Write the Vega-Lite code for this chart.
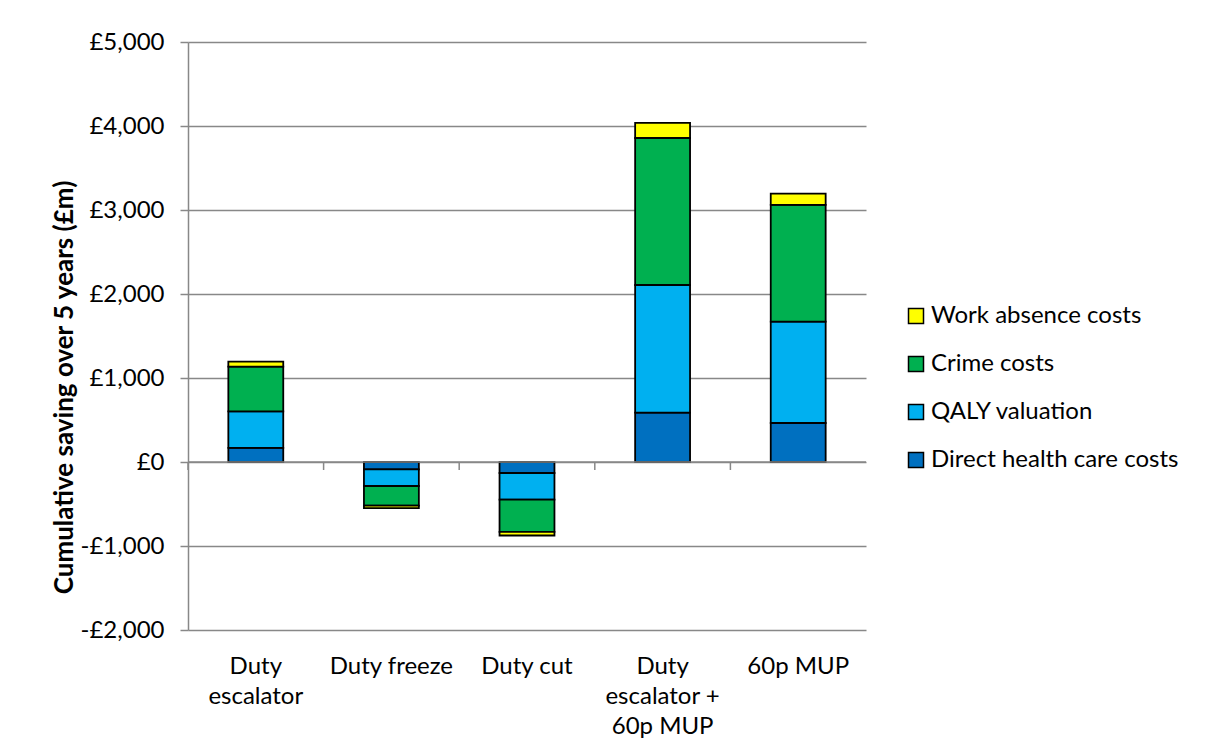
{
  "$schema": "https://vega.github.io/schema/vega-lite/v6.json",
  "width": 678,
  "height": 588,
  "autosize": {"type": "pad"},
  "padding": {"left": 51, "top": 30, "right": 0, "bottom": 0},
  "background": "white",
  "config": {
    "font": "Lato",
    "view": {"stroke": null},
    "axis": {"labelColor": "#000000", "titleColor": "#000000"}
  },
  "data": {
    "values": [
      {"scenario": "Duty escalator", "component": "Direct health care costs", "value": 167},
      {"scenario": "Duty escalator", "component": "QALY valuation", "value": 436},
      {"scenario": "Duty escalator", "component": "Crime costs", "value": 532},
      {"scenario": "Duty escalator", "component": "Work absence costs", "value": 60},
      {"scenario": "Duty freeze", "component": "Direct health care costs", "value": -87},
      {"scenario": "Duty freeze", "component": "QALY valuation", "value": -199},
      {"scenario": "Duty freeze", "component": "Crime costs", "value": -234},
      {"scenario": "Duty freeze", "component": "Work absence costs", "value": -28},
      {"scenario": "Duty cut", "component": "Direct health care costs", "value": -131},
      {"scenario": "Duty cut", "component": "QALY valuation", "value": -318},
      {"scenario": "Duty cut", "component": "Crime costs", "value": -384},
      {"scenario": "Duty cut", "component": "Work absence costs", "value": -42},
      {"scenario": "Duty escalator + 60p MUP", "component": "Direct health care costs", "value": 587},
      {"scenario": "Duty escalator + 60p MUP", "component": "QALY valuation", "value": 1520},
      {"scenario": "Duty escalator + 60p MUP", "component": "Crime costs", "value": 1750},
      {"scenario": "Duty escalator + 60p MUP", "component": "Work absence costs", "value": 180},
      {"scenario": "60p MUP", "component": "Direct health care costs", "value": 464},
      {"scenario": "60p MUP", "component": "QALY valuation", "value": 1206},
      {"scenario": "60p MUP", "component": "Crime costs", "value": 1390},
      {"scenario": "60p MUP", "component": "Work absence costs", "value": 135}
    ]
  },
  "layer": [
    {
      "transform": [
        {"calculate": "indexof(['Direct health care costs', 'QALY valuation', 'Crime costs', 'Work absence costs'], datum.component)", "as": "stackOrder"}
      ],
      "mark": {"type": "bar", "width": {"band": 0.405}, "stroke": "#000000", "strokeWidth": 1.8},
      "encoding": {
        "x": {
          "field": "scenario",
          "type": "nominal",
          "sort": ["Duty escalator", "Duty freeze", "Duty cut", "Duty escalator + 60p MUP", "60p MUP"],
          "scale": {"paddingInner": 0, "paddingOuter": 0},
          "axis": {
            "title": null,
            "domain": false,
            "ticks": false,
            "grid": false,
            "labelAngle": 0,
            "labelFontSize": 24,
            "labelPadding": 24,
            "labelBaseline": "top",
            "labelLineHeight": 30,
            "labelExpr": "datum.value == 'Duty escalator' ? ['Duty', 'escalator'] : datum.value == 'Duty escalator + 60p MUP' ? ['Duty', 'escalator +', '60p MUP'] : datum.value"
          }
        },
        "y": {
          "field": "value",
          "type": "quantitative",
          "stack": "zero",
          "scale": {"domain": [-2000, 5000], "nice": false},
          "axis": {
            "title": "Cumulative saving over 5 years (£m)",
            "titleFontSize": 26,
            "titleFontWeight": "bold",
            "titlePadding": 3,
            "titleY": 345,
            "values": [-2000, -1000, 0, 1000, 2000, 3000, 4000, 5000],
            "labelExpr": "datum.value < 0 ? '-£' + format(-datum.value, ',') : '£' + format(datum.value, ',')",
            "labelFontSize": 24,
            "labelPadding": 16,
            "tickSize": 8,
            "tickWidth": 1.5,
            "tickColor": "#888888",
            "domainColor": "#888888",
            "domainWidth": 1.5,
            "gridColor": "#888888",
            "gridWidth": 1.5
          }
        },
        "color": {
          "field": "component",
          "type": "nominal",
          "scale": {
            "domain": ["Work absence costs", "Crime costs", "QALY valuation", "Direct health care costs"],
            "range": ["#FFFF00", "#00B050", "#00B0F0", "#0070C0"]
          },
          "legend": {
            "title": null,
            "orient": "none",
            "legendX": 716,
            "legendY": 262,
            "symbolType": "square",
            "symbolSize": 225,
            "symbolStrokeColor": "#000000",
            "symbolStrokeWidth": 1.5,
            "symbolOpacity": 1,
            "labelFontSize": 24,
            "labelColor": "#000000",
            "labelLimit": 400,
            "labelOffset": 3,
            "rowPadding": 24
          }
        },
        "order": {"field": "stackOrder", "type": "quantitative"}
      }
    },
    {
      "data": {"values": [{"axisValue": 0}]},
      "mark": {"type": "rule", "color": "#888888", "strokeWidth": 1.5},
      "encoding": {"y": {"datum": 0}}
    },
    {
      "data": {
        "values": [
          {"scenario": "Duty escalator"},
          {"scenario": "Duty freeze"},
          {"scenario": "Duty cut"},
          {"scenario": "Duty escalator + 60p MUP"},
          {"scenario": "60p MUP"}
        ]
      },
      "mark": {"type": "rule", "color": "#888888", "strokeWidth": 1.5},
      "encoding": {
        "x": {
          "field": "scenario",
          "type": "nominal",
          "bandPosition": 0,
          "sort": ["Duty escalator", "Duty freeze", "Duty cut", "Duty escalator + 60p MUP", "60p MUP"]
        },
        "y": {"datum": 0},
        "y2": {"datum": -95}
      }
    }
  ]
}
